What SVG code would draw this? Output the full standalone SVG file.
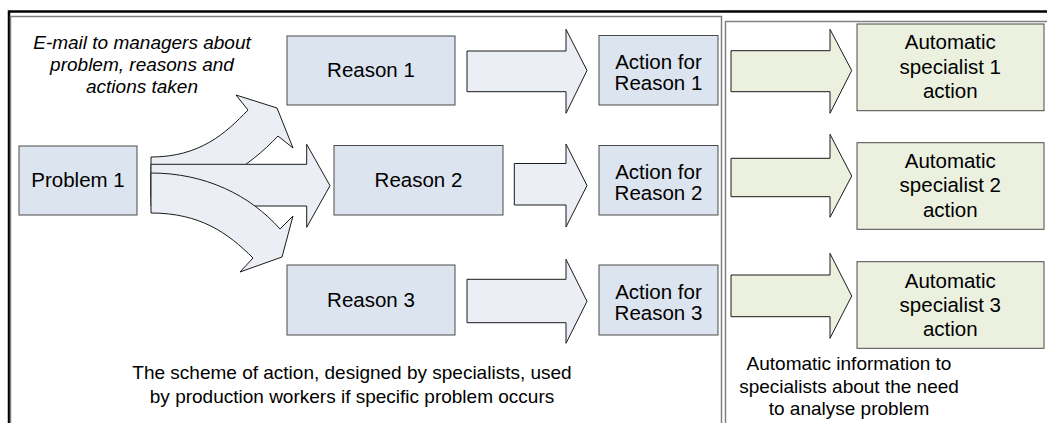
<svg xmlns="http://www.w3.org/2000/svg" width="1047" height="423" viewBox="0 0 1047 423">
<style>
  .panel { fill: none; stroke: #808080; stroke-width: 1.5; }
  .box { fill: #dce4ef; stroke: #4a4a4a; stroke-width: 1; }
  .gbox { fill: #ebf0df; stroke: #4a4a4a; stroke-width: 1; }
  .arr { fill: #ebeef4; stroke: #1a1a1a; stroke-width: 1; stroke-linejoin: miter; }
  .garr { fill: #ebf0df; stroke: #1a1a1a; stroke-width: 1; }
  .t { font-family: "Liberation Sans", Arial, sans-serif; font-size: 20.5px; fill: #000; text-anchor: middle; }
  .s { font-family: "Liberation Sans", Arial, sans-serif; font-size: 19px; fill: #000; text-anchor: middle; }
  .i { font-style: italic; }
</style>
<rect width="1047" height="423" fill="#ffffff"/>
<g id="frame">
  <path d="M9,423 V11.5 H1047" fill="none" stroke="#000" stroke-width="2.5"/>
  <rect class="panel" x="10.5" y="16.5" width="711" height="420"/>
  <rect class="panel" x="725.5" y="21.5" width="340" height="420"/>
</g>
<g id="connectors">
  <path class="arr" d="M151,157 C200,157 226,133 248,110 L236,95 L277,108 L293,148 L278,136 C250,166 205,197 151,197 Z"/>
  <polygon class="arr" points="151,164.3 306.7,164.3 306.7,144.3 330,185.7 306.7,227.3 306.7,206 151,206"/>
  <path class="arr" d="M151,213 C200,213 228,233 253,258 L240,272 L282,257 L293,216 L280,229 C250,195 205,173 151,173 Z"/>
  <polygon class="arr" points="467,51 566,51 566,29.3 587,70.5 566,113.3 566,91.7 467,91.7"/>
  <polygon class="arr" points="514.3,163.5 566,163.5 566,144 587,185.5 566,227 566,205 514.3,205"/>
  <polygon class="arr" points="467,279.3 566,279.3 566,259.3 587,301.3 566,343.3 566,322.7 467,322.7"/>
  <polygon class="garr" points="731,50.7 830,50.7 830,29.3 851.7,70.5 830,113.3 830,91.7 731,91.7"/>
  <polygon class="garr" points="731,158.3 830,158.3 830,134.3 851.7,176 830,217.3 830,196.7 731,196.7"/>
  <polygon class="garr" points="731,275 830,275 830,253.3 851.7,296 830,338.3 830,316.7 731,316.7"/>
</g>
<g id="email-note">
  <text class="s i" x="142" y="49">E-mail to managers about</text>
  <text class="s i" x="142" y="71">problem, reasons and</text>
  <text class="s i" x="142" y="93">actions taken</text>
</g>
<g id="problem1">
  <rect class="box" x="19" y="146" width="118" height="69"/>
  <text class="t" x="78" y="187">Problem 1</text>
</g>
<g id="reason1">
  <rect class="box" x="287" y="36" width="168" height="69"/>
  <text class="t" x="371" y="77">Reason 1</text>
</g>
<g id="reason2">
  <rect class="box" x="334" y="145.5" width="169" height="69.5"/>
  <text class="t" x="418.5" y="187">Reason 2</text>
</g>
<g id="reason3">
  <rect class="box" x="287" y="265" width="168" height="70"/>
  <text class="t" x="371" y="307">Reason 3</text>
</g>
<g id="action1">
  <rect class="box" x="599" y="35.5" width="119" height="69.5"/>
  <text class="t" x="658.5" y="68.5">Action for</text>
  <text class="t" x="658.5" y="90">Reason 1</text>
</g>
<g id="action2">
  <rect class="box" x="599" y="145.5" width="119" height="69.5"/>
  <text class="t" x="658.5" y="178.5">Action for</text>
  <text class="t" x="658.5" y="200">Reason 2</text>
</g>
<g id="action3">
  <rect class="box" x="599" y="265" width="119" height="70"/>
  <text class="t" x="658.5" y="298.5">Action for</text>
  <text class="t" x="658.5" y="320">Reason 3</text>
</g>
<g id="specialist1">
  <rect class="gbox" x="857" y="24" width="187" height="86.7"/>
  <text class="t" x="950.3" y="49">Automatic</text>
  <text class="t" x="950.3" y="73.5">specialist 1</text>
  <text class="t" x="950.3" y="98">action</text>
</g>
<g id="specialist2">
  <rect class="gbox" x="857" y="142.7" width="187" height="86.6"/>
  <text class="t" x="950.3" y="168">Automatic</text>
  <text class="t" x="950.3" y="192.3">specialist 2</text>
  <text class="t" x="950.3" y="216.8">action</text>
</g>
<g id="specialist3">
  <rect class="gbox" x="857" y="261.7" width="187" height="86.6"/>
  <text class="t" x="950.3" y="287.5">Automatic</text>
  <text class="t" x="950.3" y="311.5">specialist 3</text>
  <text class="t" x="950.3" y="336">action</text>
</g>
<g id="scheme-caption">
  <text class="s" x="352" y="379">The scheme of action, designed by specialists, used</text>
  <text class="s" x="352" y="402.5">by production workers if specific problem occurs</text>
</g>
<g id="auto-caption">
  <text class="s" x="849" y="370">Automatic information to</text>
  <text class="s" x="849" y="392.7">specialists about the need</text>
  <text class="s" x="849" y="415">to analyse problem</text>
</g>
</svg>
